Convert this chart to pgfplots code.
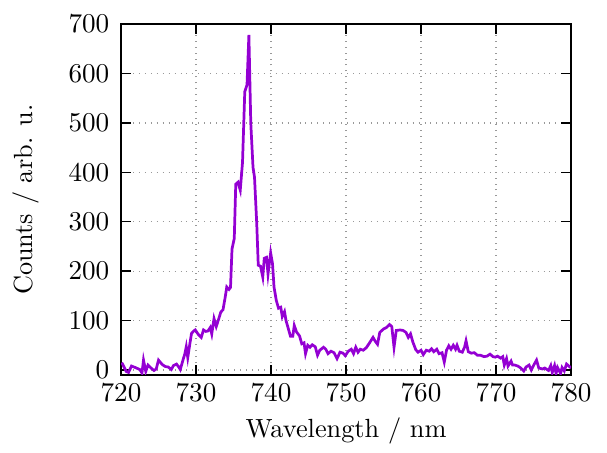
\documentclass[border=0pt]{standalone}
\usepackage{pgfplots}
\pgfplotsset{compat=1.18}
\definecolor{dviolet}{RGB}{148,0,211}
\begin{document}
\begin{tikzpicture}
\begin{axis}[name=ax,
  scale only axis, width=181.5pt, height=141.5pt,
  font=\fontsize{10.6}{12.7}\selectfont,
  xmin=720, xmax=780, ymin=-10, ymax=700,
  xtick={720,730,...,780}, ytick={0,100,...,700},
  grid=major, grid style={dotted, gray!80, line width=0.5pt},
  major tick length=4pt, tick style={black, line width=0.6pt},
  axis line style={line width=0.6pt},
  xlabel={Wavelength / nm}, ylabel={Counts / arb. u.},
  ylabel style={yshift=5pt},
  yticklabel style={xshift=-1.2pt},
  /pgf/number format/1000 sep={},
]
\addplot[color=dviolet, line width=1.1pt] coordinates {
(720.1,15)(720.4,6)(720.7,-3)(721.0,-5)(721.4,8)(721.9,5)(722.5,1)(722.8,-6)(723.0,20)(723.3,-3)
(723.6,10)(724.0,4)(724.4,-1)(724.7,2)(725.0,20)(725.5,11)(725.9,7)(726.3,6)(726.7,1)(727.0,9)
(727.4,12)(727.7,6)(727.9,1)(728.3,22)(728.5,32)(728.7,47)(728.9,25)(729.2,55)(729.4,74)(729.7,79)
(729.9,81)(730.3,72)(730.7,66)(731.0,81)(731.3,78)(731.6,79)(731.9,86)(732.1,73)(732.4,104)(732.7,88)
(733.0,102)(733.3,117)(733.6,122)(733.9,148)(734.1,168)(734.4,163)(734.6,167)(734.8,245)(735.1,266)(735.3,376)
(735.6,380)(735.9,364)(736.2,420)(736.5,563)(736.8,577)(737.05,678)(737.3,500)(737.6,410)(737.8,390)(738.1,295)
(738.3,212)(738.6,210)(738.9,188)(739.1,226)(739.4,228)(739.6,194)(739.95,237)(740.2,215)(740.4,168)(740.7,141)
(741.0,125)(741.3,127)(741.5,108)(741.8,118)(742.0,100)(742.3,84)(742.6,68)(742.9,68)(743.1,90)(743.4,77)
(743.8,69)(744.1,53)(744.4,55)(744.6,33)(744.9,50)(745.2,46)(745.5,51)(745.9,47)(746.2,30)(746.5,40)
(747.0,46)(747.3,42)(747.6,33)(748.0,38)(748.4,35)(748.8,23)(749.2,36)(749.6,34)(749.9,29)(750.3,38)
(750.7,42)(751.0,33)(751.3,46)(751.6,36)(751.9,42)(752.3,40)(752.7,45)(753.1,54)(753.6,66)(753.9,58)
(754.2,52)(754.5,76)(755.0,83)(755.4,86)(755.8,92)(756.1,88)(756.4,46)(756.7,80)(757.2,81)(757.6,80)
(758.0,76)(758.3,66)(758.6,73)(758.9,57)(759.3,41)(759.6,36)(760.0,40)(760.3,31)(760.7,40)(761.1,38)
(761.4,43)(761.7,37)(762.1,42)(762.4,33)(762.8,35)(763.1,16)(763.4,40)(763.7,49)(764.0,42)(764.3,50)
(764.6,42)(764.8,50)(765.1,38)(765.5,36)(765.8,46)(766.0,59)(766.3,37)(766.7,34)(767.1,35)(767.5,30)
(767.9,30)(768.4,27)(768.8,28)(769.2,32)(769.6,27)(769.9,26)(770.2,28)(770.6,24)(770.9,27)(771.1,10)
(771.4,23)(771.6,8)(772.0,18)(772.2,10)(772.5,10)(772.9,8)(773.3,4)(773.7,-2)(774.0,6)(774.4,10)
(774.7,0)(775.1,12)(775.4,20)(775.7,4)(776.2,2)(776.5,4)(777.0,-1)(777.3,9)(777.5,-5)(777.8,9)
(778.0,-7)(778.2,5)(778.6,-7)(778.8,5)(779.1,-2)(779.4,12)(779.7,8)(780.0,4)
};
\end{axis}
\path ([xshift=-48.8pt,yshift=-28.2pt]ax.south west) rectangle ([xshift=14.5pt,yshift=9.7pt]ax.north east);
\end{tikzpicture}
\end{document}
